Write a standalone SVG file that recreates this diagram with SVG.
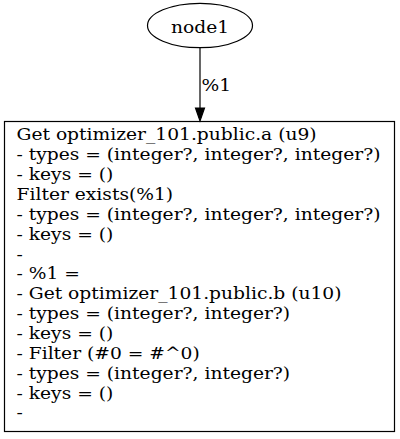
<svg xmlns="http://www.w3.org/2000/svg" width="400" height="439" viewBox="0 0 400 439">
  <defs>
    <style>
      .shape { fill: none; stroke: #000; stroke-width: 1.2; }
      .lbl { font-family: "DejaVu Serif", "Liberation Serif", serif; font-size: 17.1px; fill: #000; }
      .edge { stroke: #000; stroke-width: 1.2; fill: none; }
      .head { fill: #000; stroke: #000; stroke-width: 1.2; }
    </style>
  </defs>
  <rect width="400" height="439" fill="#fff"/>

  <g id="connectors">
    <line class="edge" x1="200" y1="48" x2="200" y2="108"/>
    <polygon class="head" points="195.5,108 204.5,108 200,121"/>
    <text class="lbl" transform="translate(201.5,91) scale(1.092,1)">%1</text>
  </g>

  <g id="node1">
    <ellipse class="shape" cx="200" cy="25.5" rx="52.5" ry="22.2"/>
    <text class="lbl" transform="translate(200,33) scale(1.092,1)" text-anchor="middle">node1</text>
  </g>

  <g id="node2">
    <rect class="shape" x="4.5" y="121.5" width="390" height="310"/>
    <!-- label lines, left aligned, glyphs widened slightly -->
    <text class="lbl" transform="translate(16.5,0) scale(1.092,1)">
      <tspan x="0" y="140.5">Get optimizer_101.public.a (u9)</tspan>
      <tspan x="0" y="160.35">- types = (integer?, integer?, integer?)</tspan>
      <tspan x="0" y="180.2">- keys = ()</tspan>
      <tspan x="0" y="200.05">Filter exists(%1)</tspan>
      <tspan x="0" y="219.9">- types = (integer?, integer?, integer?)</tspan>
      <tspan x="0" y="239.75">- keys = ()</tspan>
      <tspan x="0" y="259.6">-</tspan>
      <tspan x="0" y="279.45">- %1 =</tspan>
      <tspan x="0" y="299.3">- Get optimizer_101.public.b (u10)</tspan>
      <tspan x="0" y="319.15">- types = (integer?, integer?)</tspan>
      <tspan x="0" y="339">- keys = ()</tspan>
      <tspan x="0" y="358.85">- Filter (#0 = #^0)</tspan>
      <tspan x="0" y="378.7">- types = (integer?, integer?)</tspan>
      <tspan x="0" y="398.55">- keys = ()</tspan>
      <tspan x="0" y="418.4">-</tspan>
    </text>
  </g>
</svg>
